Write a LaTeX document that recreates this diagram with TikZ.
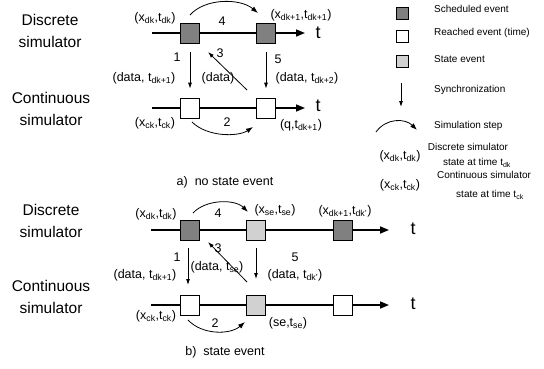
\documentclass[tikz,border=0pt]{standalone}
\usepackage{fontspec}
\setmainfont{Liberation Sans}
\usetikzlibrary{arrows.meta}
\newcommand{\lo}[1]{\textsubscript{#1}}

\begin{document}
\begin{tikzpicture}[>=Latex, x=1pt, y=-1pt,
  every node/.style={inner sep=0pt, font=\fontsize{12.5}{14}\selectfont},
  side/.style={align=center, font=\fontsize{15.5}{22.5}\selectfont},
  tlab/.style={font=\fontsize{18}{20}\selectfont},
  legfont/.style={font=\fontsize{10}{12}\selectfont},
  legtext/.style={legfont, anchor=west},
  axis/.style={line width=1.6pt, -{Triangle[length=9pt,width=7pt]}},
  box/.style={draw, line width=0.7pt, minimum width=19pt, minimum height=20pt},
  sched/.style={box, fill=black!50},
  reached/.style={box, fill=white},
  stateev/.style={box, fill=black!18},
  legbox/.style={minimum width=12pt, minimum height=12pt},
  sync/.style={line width=0.8pt, -{Latex[length=6pt,width=4pt]}},
  simstep/.style={line width=0.8pt, -{Latex[length=7pt,width=5pt]}}]
\useasboundingbox (0,0) rectangle (544,368);

% a) no state event
\node[side] at (50,31) {Discrete\\simulator};
\node[side] at (51,109) {Continuous\\simulator};
\coordinate (da0) at (152,33); \coordinate (daend) at (305,33);
\coordinate (ca0) at (152,108); \coordinate (caend) at (305,108);
\draw[axis] (da0) -- (daend);
\draw[axis] (ca0) -- (caend);
\node[tlab] at (318,33) {t};
\node[tlab] at (318,106) {t};
\foreach \n/\x in {1/190,2/266} {
  \node[sched] (da\n) at (\x,33) {};
  \node[reached] (ca\n) at (\x,108) {};
}
\draw[simstep] ([yshift=18pt]da1.center) .. controls (205,-2) and (240,-2) .. ([xshift=-8pt,yshift=20pt]da2.center);
\draw[simstep] ([xshift=2pt,yshift=-14pt]ca1.center) .. controls (207,137) and (238,137) .. ([xshift=-13pt,yshift=-19pt]ca2.center);
\draw[sync, shorten <=9pt, shorten >=9pt] (da1) -- (ca1);
\draw[sync] ([xshift=-19pt,yshift=18pt]ca2.center) -- ([xshift=18pt,yshift=-19pt]da1.center);
\draw[sync, shorten <=9pt, shorten >=9pt] (da2) -- (ca2);
\node at (155,18) {(x\lo{dk},t\lo{dk})};
\node at (301,15) {(x\lo{dk+1},t\lo{dk+1})};
\node at (222,21) {4};
\node at (177,57) {1};
\node at (144,78) {(data, t\lo{dk+1})};
\node at (220,53) {3};
\node at (218,78) {(data)};
\node at (278,59) {5};
\node at (307,78) {(data, t\lo{dk+2})};
\node at (227,122) {2};
\node at (155,123) {(x\lo{ck},t\lo{ck})};
\node at (301,125) {(q,t\lo{dk+1})};
\node at (225,182) {a)\ \ no state event};

% b) state event
\node[side] at (51,221) {Discrete\\simulator};
\node[side] at (51,297) {Continuous\\simulator};
\coordinate (db0) at (151,230); \coordinate (dbend) at (389,230);
\coordinate (cb0) at (151,305); \coordinate (cbend) at (389,305);
\draw[axis] (db0) -- (dbend);
\draw[axis] (cb0) -- (cbend);
\node[tlab] at (413,229) {t};
\node[tlab] at (413,304) {t};
\node[sched] (db1) at (190,230) {};
\node[stateev] (db2) at (256,230) {};
\node[sched] (db3) at (343,230) {};
\node[reached] (cb1) at (190,305) {};
\node[stateev] (cb2) at (256,305) {};
\node[reached] (cb3) at (343,305) {};
\draw[simstep] ([xshift=3pt,yshift=17pt]db1.center) .. controls (206,199) and (235,199) .. ([xshift=-8pt,yshift=18pt]db2.center);
\draw[simstep] ([xshift=-2pt,yshift=-15pt]cb1.center) .. controls (202,335) and (230,335) .. ([xshift=-11pt,yshift=-17pt]cb2.center);
\draw[sync] ([xshift=-2pt,yshift=-18pt]db1.center) -- ([xshift=-2pt,yshift=20pt]cb1.center);
\draw[sync] ([xshift=-9pt,yshift=23pt]cb2.center) -- ([xshift=18pt,yshift=-12pt]db1.center);
\draw[sync] ([yshift=-18pt]db2.center) -- ([yshift=26pt]cb2.center);
\node at (156,214) {(x\lo{dk},t\lo{dk})};
\node at (275,210) {(x\lo{se},t\lo{se})};
\node at (345,211) {(x\lo{dk+1},t\lo{dk'})};
\node at (218,213) {4};
\node at (177,257) {1};
\node at (145,275) {(data, t\lo{dk+1})};
\node at (218,248) {3};
\node at (217,267) {(data, t\lo{se})};
\node at (295,257) {5};
\node at (295,275) {(data, t\lo{dk'})};
\node at (215,323) {2};
\node at (156,316) {(x\lo{ck},t\lo{ck})};
\node at (288,323) {(se,t\lo{se})};
\node at (225,352) {b)\ \ state event};

% legend
\node[sched, legbox] (lsched) at (402,13) {};
\node[reached, legbox] (lreach) at (402,36) {};
\node[stateev, legbox] (lstate) at (402,61) {};
\node[legtext] at (434,9) {Scheduled event};
\node[legtext] at (434,33) {Reached event (time)};
\node[legtext] at (434,59) {State event};
\coordinate (lsync0) at (401,83); \coordinate (lsync1) at (401,107);
\draw[sync] (lsync0) -- (lsync1);
\node[legtext] at (434,90) {Synchronization};
\coordinate (lstep0) at (376,132); \coordinate (lstep1) at (417,130);
\draw[simstep] (lstep0) .. controls (386,118) and (405,118) .. (lstep1);
\node[legtext] at (434,126) {Simulation step};
\node at (400,156) {(x\lo{dk},t\lo{dk})};
\node[legfont] at (468,147) {Discrete simulator};
\node[legfont] at (477,163) {state at time t\lo{dk}};
\node at (400,185) {(x\lo{ck},t\lo{ck})};
\node[legfont] at (484,175) {Continuous simulator};
\node[legfont] at (490,195) {state at time t\lo{ck}};
\end{tikzpicture}
\end{document}
